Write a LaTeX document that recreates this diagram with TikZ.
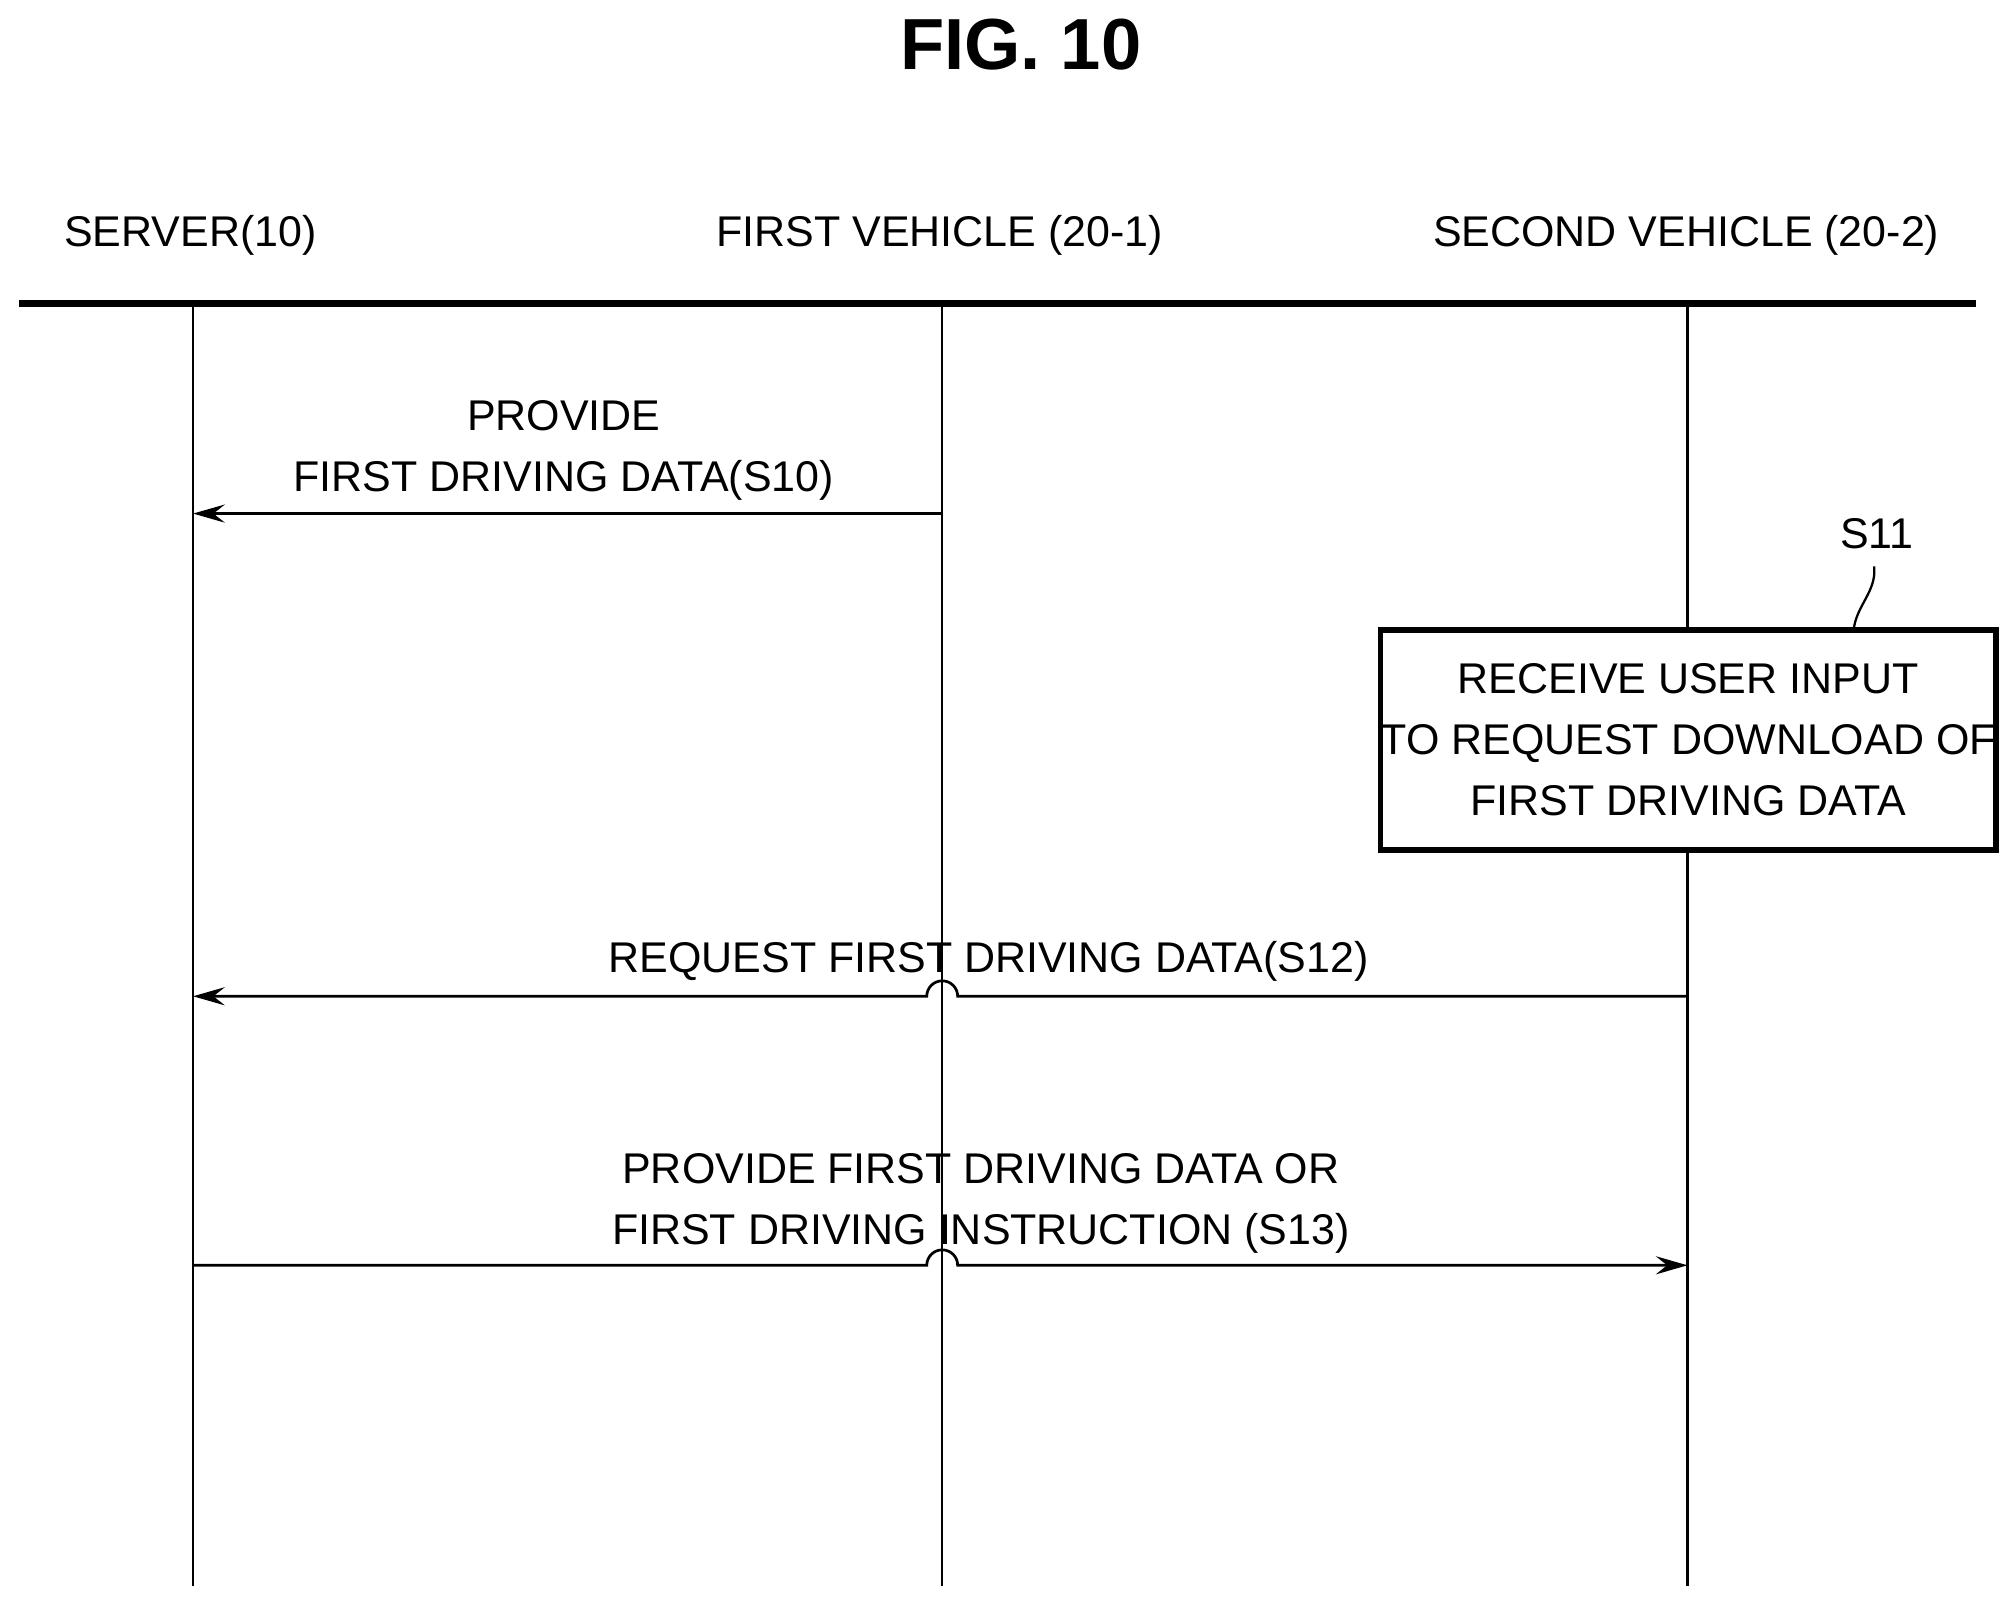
\documentclass[tikz,border=0pt]{standalone}
\usepackage{fontspec}
\setmainfont{Liberation Sans}
\usetikzlibrary{arrows.meta}
\begin{document}
\begin{tikzpicture}[x=0.02cm,y=-0.02cm,
 lbl/.style={font=\fontsize{19}{27}\selectfont,align=center,inner sep=0},
 msg/.style={line width=1.2pt,-{Stealth[length=14pt,width=8pt,inset=5pt]}},
 life/.style={line width=1pt}]
\useasboundingbox (0,0) rectangle (1560,1243);
\node[font=\bfseries\fontsize{32}{38}\selectfont] (title) at (793,35) {FIG. 10};
\node[lbl] (hs) at (148,183) {SERVER(10)};
\node[lbl] (h1) at (730,183) {FIRST VEHICLE (20-1)};
\node[lbl] (h2) at (1310,183) {SECOND VEHICLE (20-2)};
\coordinate (tl) at (15,236); \coordinate (tr) at (1535,236);
\draw[line width=3pt] (tl) -- (tr);
\foreach \n/\x in {s/150,a/732,b/1311}{
  \coordinate (\n top) at (\x,236); \coordinate (\n bot) at (\x,1232);
  \draw[life] (\n top) -- (\n bot);}
% S10
\coordinate (a10) at (732,399); \coordinate (s10) at (150,399);
\draw[msg] (a10) -- (s10);
\node[lbl] (l10) at (438,350) {PROVIDE\\FIRST DRIVING DATA(S10)};
% S11 box
\node[draw,line width=2.5pt,fill=white,lbl,minimum width=477*0.02cm,minimum height=171*0.02cm] (box) at (1311.5,575)
 {RECEIVE USER INPUT\\TO REQUEST DOWNLOAD OF\\FIRST DRIVING DATA};
\node[lbl] (s11) at (1458,415) {S11};
\coordinate (sq) at (1440,490);
\draw[line width=1pt] (sq) .. controls (1442,470) and (1458,460) .. (1456,440);
% S12
\coordinate (b12) at (1311,774); \coordinate (s12) at (150,774);
\draw[msg] (b12) -- (744,774) arc[start angle=0,end angle=-180,radius=12] -- (s12);
\node[lbl] (l12) at (768,747) {REQUEST FIRST DRIVING DATA(S12)};
% S13
\coordinate (s13) at (150,983); \coordinate (b13) at (1311,983);
\draw[msg] (s13) -- (720,983) arc[start angle=180,end angle=360,radius=12] -- (b13);
\node[lbl] (l13) at (762,935) {PROVIDE FIRST DRIVING DATA OR\\FIRST DRIVING INSTRUCTION (S13)};
\end{tikzpicture}
\end{document}
